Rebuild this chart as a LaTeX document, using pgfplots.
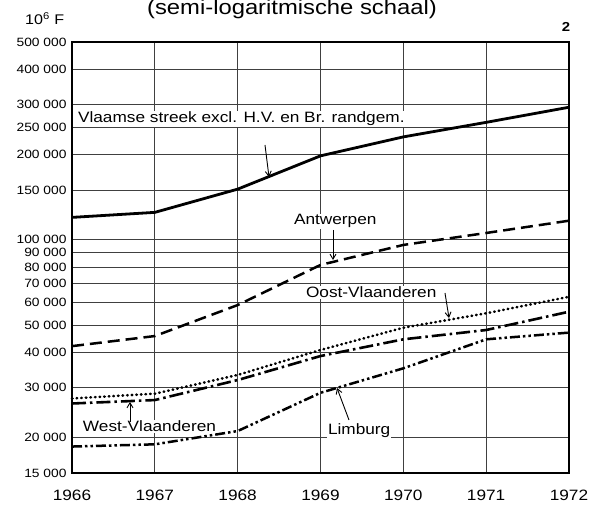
\documentclass[border=0pt]{standalone}
\usepackage{pgfplots}
\pgfplotsset{compat=1.18}
\usetikzlibrary{arrows.meta}
\usepackage{fontspec}
\setmainfont[FakeStretch=1.15]{Liberation Sans}
\begin{document}
\begin{tikzpicture}[x=1pt,y=1pt]
\begin{axis}[
  at={(0,0)}, anchor=south west,
  scale only axis, width=497pt, height=431pt,
  ymode=log, ymin=15000, ymax=500000,
  xmin=1966, xmax=1972,
  xtick={1966,1967,1968,1969,1970,1971,1972},
  xticklabels={1966,1967,1968,1969,1970,1971,1972},
  ytick={15000,20000,30000,40000,50000,60000,70000,80000,90000,100000,150000,200000,250000,300000,400000,500000},
  yticklabels={15 000,20 000,30 000,40 000,50 000,60 000,70 000,80 000,90 000,100 000,150 000,200 000,250 000,300 000,400 000,500 000},
  minor ytick={}, 
  major tick length=0pt,
  grid=major,
  major grid style={black!75, line width=0.7pt},
  axis line style={line width=1.6pt},
  x tick label style={font=\fontsize{15}{15}\selectfont, yshift=-14pt},
  y tick label style={font=\fontsize{12}{12}\selectfont, xshift=-2pt},
  clip=false,
]
% Vlaamse streek
\addplot[black, line width=2.8pt] coordinates {
(1966,120000) (1967,125000) (1968,151000) (1969,198000) (1970,231000) (1971,260000) (1972,294000)};
% Antwerpen
\addplot[black, line width=2.5pt, dash pattern=on 12pt off 6pt] coordinates {
(1966,42100) (1967,45700) (1968,58800) (1969,81500) (1970,95900) (1971,105700) (1972,116800)};
% Oost-Vlaanderen
\addplot[black, line width=2.6pt, line cap=round, dash pattern=on 0.6pt off 4pt] coordinates {
(1966,27500) (1967,28600) (1968,33300) (1969,40800) (1970,48900) (1971,55000) (1972,62900)};
% West-Vlaanderen
\addplot[black, line width=2.6pt, dash pattern=on 14pt off 4pt on 2.5pt off 4pt] coordinates {
(1966,26400) (1967,27150) (1968,31950) (1969,38850) (1970,44500) (1971,48000) (1972,55700)};
% Limburg
\addplot[black, line width=2.5pt, dash pattern=on 10pt off 3pt on 2.5pt off 3pt on 2.5pt off 3pt] coordinates {
(1966,18600) (1967,18940) (1968,21100) (1969,28800) (1970,35150) (1971,44500) (1972,47000)};
\end{axis}
% labels (pt relative to axis origin: X=px-72, Y=473-py)
\def\lab{\fontsize{15}{15}\selectfont}
\node[anchor=base west, inner sep=0.8pt, fill=white] at (5,350) {\lab Vlaamse streek excl. H.V. en Br. randgem.};
\node[anchor=base west, inner sep=0.8pt, fill=white] at (221,248) {\lab Antwerpen};
\node[anchor=base west, inner sep=0.8pt, fill=white] at (233,175) {\lab Oost-Vlaanderen};
\node[anchor=base west, inner sep=0.8pt, fill=white] at (10,41) {\lab West-Vlaanderen};
\node[anchor=base west, inner sep=0.8pt, fill=white] at (255,38) {\lab Limburg};
% arrows
\tikzset{arr/.style={-{Straight Barb[length=5pt,width=6pt]}, line width=0.9pt}}
\draw[arr] (193,328) -- (197,296);
\draw[arr] (261,243) -- (261,213);
\draw[arr] (373,180) -- (377,155);
\draw[arr] (58,51) -- (58,71);
\draw[arr] (277,53) -- (265,85);
% titles
\node[anchor=base] at (220,458) {\fontsize{20.7}{20.7}\selectfont (semi-logaritmische schaal)};
\node[anchor=base west, inner sep=0pt] at (-47,448) {\fontsize{14}{14}\selectfont 10\textsuperscript{6}\ F};
\node[anchor=base, inner sep=0pt] at (494,441) {\fontsize{13}{13}\selectfont\bfseries 2};
\pgfresetboundingbox
\useasboundingbox (-72,-32) rectangle (520,473);
\end{tikzpicture}
\end{document}
